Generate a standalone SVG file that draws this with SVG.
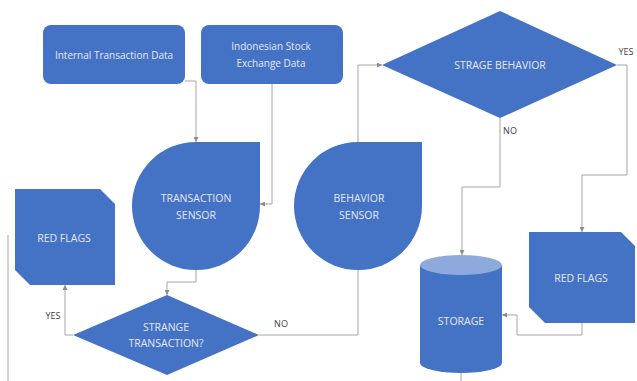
<svg xmlns="http://www.w3.org/2000/svg" width="637" height="381" viewBox="0 0 637 381">
<style>
.shape{fill:#4472c4;}
.t{font-family:"Open Sans","Liberation Sans",sans-serif;font-size:10px;fill:#e4e9f5;text-anchor:middle;}
.tc{font-family:"Open Sans","Liberation Sans",sans-serif;font-size:10.5px;fill:#e4e9f5;text-anchor:middle;}
.lbl{font-family:"Open Sans","Liberation Sans",sans-serif;font-size:9px;fill:#404040;text-anchor:middle;}
.c{fill:none;stroke:#a6a6a6;stroke-width:1;}
</style>
<defs>
<marker id="arr" viewBox="0 0 6 6" refX="6" refY="3" markerWidth="5" markerHeight="5" orient="auto">
<path d="M0,0 L6,3 L0,6 Z" fill="#8c8c8c"/>
</marker>
</defs>
<rect width="637" height="381" fill="#ffffff"/>
<g id="connectors">
<path class="c" d="M185,81 L196,81 L196,142" marker-end="url(#arr)"/>
<path class="c" d="M272,84 L272,204 L260,204" marker-end="url(#arr)"/>
<path class="c" d="M196,270 L196,282 L167,282 L167,295" marker-end="url(#arr)"/>
<path class="c" d="M73,335 L65,335 L65,285" marker-end="url(#arr)"/>
<path class="c" d="M259,335 L358,335 L358,270"/>
<path class="c" d="M358,142 L358,65 L382,65" marker-end="url(#arr)"/>
<path class="c" d="M500,118 L500,187 L462,187 L462,255" marker-end="url(#arr)"/>
<path class="c" d="M617,65 L627,65 L627,175 L582,175 L582,232" marker-end="url(#arr)"/>
<path class="c" d="M582,323 L582,335 L517,335 L517,315 L502,315" marker-end="url(#arr)"/>
<path class="c" d="M461,373 L461,381"/>
<path class="c" d="M8,235 L8,381"/>
<text class="lbl" x="53" y="319">YES</text>
<text class="lbl" x="281" y="327">NO</text>
<text class="lbl" x="626" y="55">YES</text>
<text class="lbl" x="510" y="134">NO</text>
</g>
<g id="internal-data">
<rect class="shape" x="43" y="25" width="142" height="59" rx="8"/>
<text class="t" x="114" y="59">Internal Transaction Data</text>
</g>
<g id="idx-data">
<rect class="shape" x="201" y="25" width="142" height="59" rx="8"/>
<text class="t" x="271" y="50">Indonesian Stock</text>
<text class="t" x="271" y="67">Exchange Data</text>
</g>
<g id="transaction-sensor">
<path class="shape" d="M260,142 L260,206 A64,64 0 1 1 196,142 Z"/>
<text class="tc" x="196" y="202">TRANSACTION</text>
<text class="tc" x="196" y="219">SENSOR</text>
</g>
<g id="behavior-sensor">
<path class="shape" d="M422,142 L422,206 A64,64 0 1 1 358,142 Z"/>
<text class="tc" x="359" y="202">BEHAVIOR</text>
<text class="tc" x="359" y="219">SENSOR</text>
</g>
<g id="strage-behavior">
<polygon class="shape" points="382,65 500,11 617,65 500,118"/>
<text class="tc" x="500" y="69">STRAGE BEHAVIOR</text>
</g>
<g id="strange-transaction">
<polygon class="shape" points="73,335 167,295 259,335 167,375"/>
<text class="tc" x="166" y="331">STRANGE</text>
<text class="tc" x="166" y="347">TRANSACTION?</text>
</g>
<g id="red-flags-left">
<polygon class="shape" points="15,189 100,189 115,204 115,285 30,285 15,270"/>
<text class="tc" x="64" y="242">RED FLAGS</text>
</g>
<g id="red-flags-right">
<polygon class="shape" points="529,232 621,232 635,246 635,323 545,323 529,307"/>
<text class="tc" x="581" y="282">RED FLAGS</text>
</g>
<g id="storage">
<path class="shape" d="M420,265 L420,363 A41,10 0 0 0 502,363 L502,265 Z"/>
<ellipse cx="461" cy="265" rx="41" ry="10" fill="#8eaadc"/>
<text class="tc" x="461" y="325">STORAGE</text>
</g>
</svg>
